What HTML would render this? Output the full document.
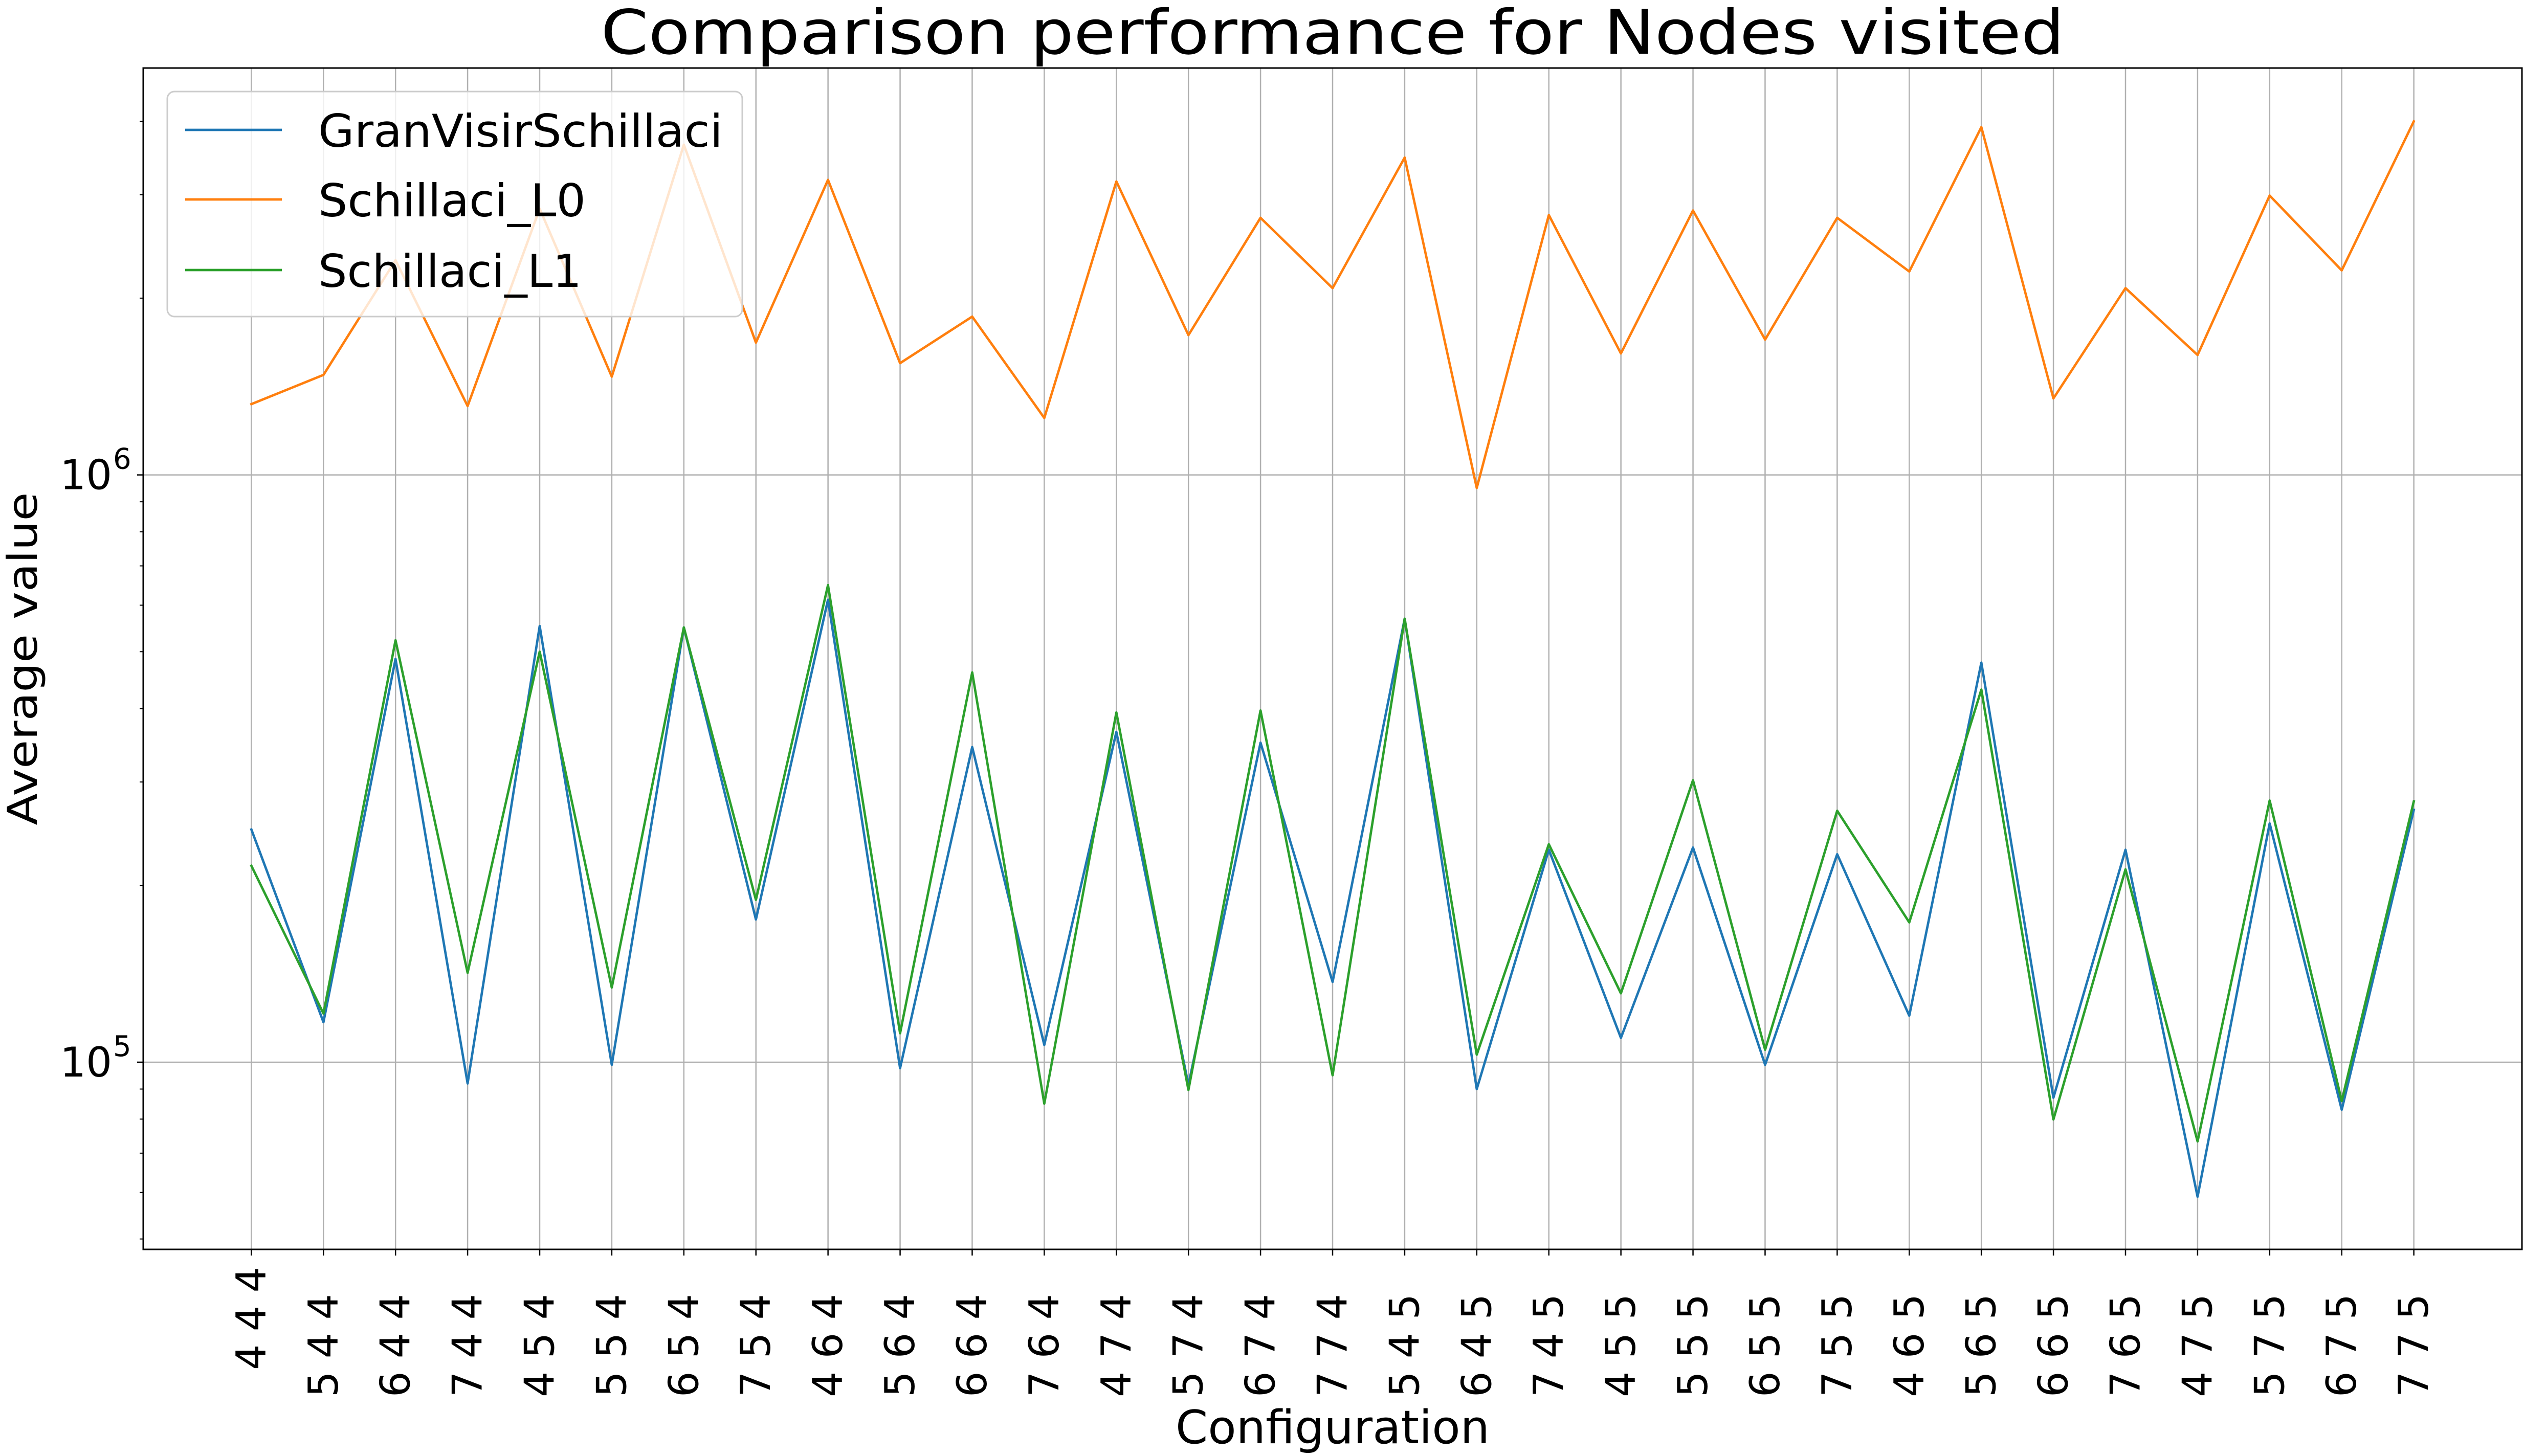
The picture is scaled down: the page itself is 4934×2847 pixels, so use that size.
<!DOCTYPE html>
<html><head><meta charset="utf-8"><style>
html,body{margin:0;padding:0;background:#fff;}
svg{display:block;font-family:"DejaVu Sans","Liberation Sans",sans-serif;}
</style></head><body>
<svg id="chart" xmlns="http://www.w3.org/2000/svg" width="4934" height="2847" viewBox="0 0 4934 2847">
<rect x="0" y="0" width="4934" height="2847" fill="#fff"/>
<g id="grid"></g>
<g id="series"></g>
<g id="axes"></g>
<text x="2605" y="105" text-anchor="middle" font-size="120" textLength="2861" lengthAdjust="spacingAndGlyphs">Comparison performance for Nodes visited</text>
<text x="2605" y="2822" text-anchor="middle" font-size="90" textLength="614" lengthAdjust="spacingAndGlyphs">Configuration</text>
<text transform="translate(72,1288) rotate(-90)" text-anchor="middle" font-size="80" textLength="651" lengthAdjust="spacingAndGlyphs">Average value</text>
<g id="legend"></g>
</svg>
<script>
const categories = ["4 4 4","5 4 4","6 4 4","7 4 4","4 5 4","5 5 4","6 5 4","7 5 4","4 6 4","5 6 4","6 6 4","7 6 4","4 7 4","5 7 4","6 7 4","7 7 4","5 4 5","6 4 5","7 4 5","4 5 5","5 5 5","6 5 5","7 5 5","4 6 5","5 6 5","6 6 5","7 6 5","4 7 5","5 7 5","6 7 5","7 7 5"];
const granVisir = [2.49e5,1.17e5,4.86e5,9.2e4,5.53e5,9.9e4,5.5e5,1.75e5,6.13e5,9.77e4,3.44e5,1.07e5,3.65e5,9.15e4,3.5e5,1.37e5,5.69e5,9.0e4,2.3e5,1.1e5,2.32e5,9.9e4,2.26e5,1.2e5,4.79e5,8.7e4,2.3e5,5.9e4,2.55e5,8.3e4,2.69e5];
const schillaciL0 = [1.32e6,1.48e6,2.32e6,1.31e6,2.84e6,1.47e6,3.65e6,1.68e6,3.18e6,1.55e6,1.86e6,1.25e6,3.16e6,1.73e6,2.74e6,2.08e6,3.47e6,9.5e5,2.77e6,1.61e6,2.82e6,1.7e6,2.74e6,2.22e6,3.91e6,1.35e6,2.08e6,1.6e6,2.99e6,2.23e6,4.0e6];
const schillaciL1 = [2.16e5,1.21e5,5.23e5,1.42e5,5.0e5,1.34e5,5.5e5,1.89e5,6.49e5,1.12e5,4.61e5,8.5e4,3.94e5,8.97e4,3.97e5,9.5e4,5.69e5,1.03e5,2.35e5,1.31e5,3.02e5,1.05e5,2.68e5,1.73e5,4.31e5,7.99e4,2.13e5,7.33e4,2.79e5,8.59e4,2.78e5];
const seriesNames = ["GranVisirSchillaci","Schillaci_L0","Schillaci_L1"];
const majorTicks = [1e5,1e6];
const majorLabelsExp = ["5","6"];

const NS="http://www.w3.org/2000/svg";
const L=280,R=4930,T=133,B=2443;
const yMin=Math.log10(4.8e4), yMax=Math.log10(4.93e6);
const n=categories.length;
function xs(i){ const lo=-1.5, hi=n-1+1.5; return L+(i-lo)/(hi-lo)*(R-L); }
function ys(v){ return B-(Math.log10(v)-yMin)/(yMax-yMin)*(B-T); }
function mk(tag,attrs,parent){ const e=document.createElementNS(NS,tag); for(const k in attrs) e.setAttribute(k,attrs[k]); parent.appendChild(e); return e; }

const grid=document.getElementById('grid'), axes=document.getElementById('axes'), ser=document.getElementById('series'), leg=document.getElementById('legend');

categories.forEach((c,i)=>{
  const x=xs(i);
  const g=mk('line',{x1:x,x2:x,y1:T,y2:B,stroke:'#b0b0b0','stroke-width':2.5},grid);
  
  
  const t=mk('line',{x1:x,x2:x,y1:B,y2:B+12,stroke:'#000','stroke-width':2.5},axes);
  
  
  const top = i===0 ? 2477 : 2530;
  const lb=mk('text',{transform:`translate(${x},${top}) rotate(-90)`,'text-anchor':'end','dominant-baseline':'central','font-size':80,textLength:202,lengthAdjust:'spacingAndGlyphs'},axes);
  lb.textContent=c;
  
  
});
majorTicks.forEach((v,k)=>{
  const y=ys(v);
  const g=mk('line',{x1:L,x2:R,y1:y,y2:y,stroke:'#b0b0b0','stroke-width':2.5},grid);
  
  
  const t=mk('line',{x1:L-12,x2:L,y1:y,y2:y,stroke:'#000','stroke-width':2.5},axes);
  
  
  const lb=mk('text',{x:219,y:y+28,'text-anchor':'end','font-size':80},axes);
  lb.textContent='10';
  
  
  const sp=mk('text',{x:221,y:y-12,'font-size':56},axes);
  sp.textContent=majorLabelsExp[k];
  
  
});
for(let d=4; d<=6; d++){
  for(let m=2;m<=9;m++){
    const v=m*Math.pow(10,d);
    const lv=Math.log10(v);
    if(lv<yMin||lv>yMax) continue;
    const y=ys(v);
    const t=mk('line',{x1:L-7,x2:L,y1:y,y2:y,stroke:'#000','stroke-width':2},axes);
    
    
  }
}
const colors=['#1f77b4','#ff7f0e','#2ca02c'];
[granVisir,schillaciL0,schillaciL1].forEach((arr,s)=>{
  const d=arr.map((v,i)=>(i?'L':'M')+xs(i).toFixed(1)+' '+ys(v).toFixed(1)).join(' ');
  const p=mk('path',{d:d,fill:'none',stroke:colors[s],'stroke-width':4.7,'stroke-linejoin':'round','stroke-linecap':'square'},ser);
  
  
});
const fr=mk('rect',{x:L,y:T,width:R-L,height:B-T,fill:'none',stroke:'#000','stroke-width':3},axes);


const lbox=mk('rect',{x:327,y:179,width:1124,height:440,rx:14,fill:'#fff','fill-opacity':0.8,stroke:'#cccccc','stroke-width':3},leg);


const rowsY=[254,390,528], lens=[791,523,515];
seriesNames.forEach((nm,s)=>{
  const ln=mk('line',{x1:362,x2:551,y1:rowsY[s],y2:rowsY[s],stroke:colors[s],'stroke-width':4.7},leg);
  
  
  const tx=mk('text',{x:622,y:rowsY[s]+33,'font-size':88,textLength:lens[s],lengthAdjust:'spacingAndGlyphs'},leg);
  tx.textContent=nm;
  
  
});
</script>
</body></html>
